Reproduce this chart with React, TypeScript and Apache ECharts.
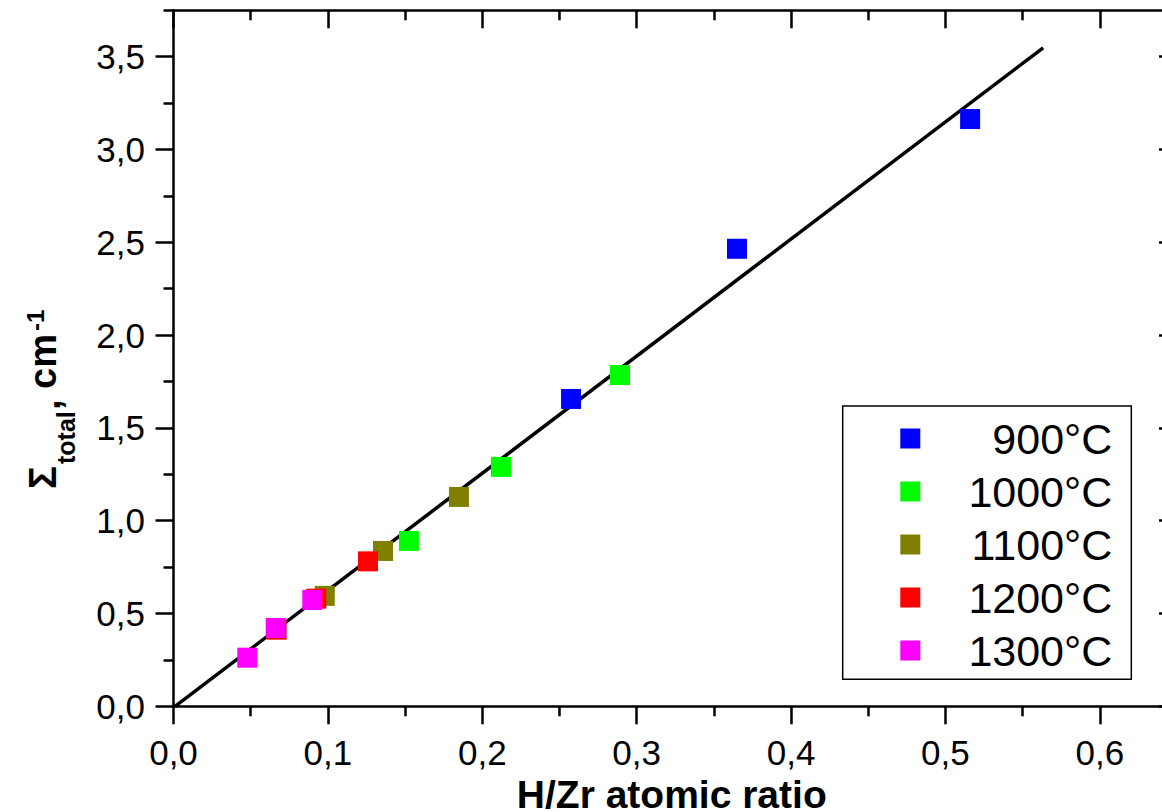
import React, { useEffect, useRef } from "react";
import * as echarts from "echarts";

const xMajorTicks = [0, 0.1, 0.2, 0.3, 0.4, 0.5, 0.6];
const xMinorTicks = [0.05, 0.15, 0.25, 0.35, 0.45, 0.55];
const yMajorTicks = [0, 0.5, 1.0, 1.5, 2.0, 2.5, 3.0, 3.5];
const yMinorTicks = [0.25, 0.75, 1.25, 1.75, 2.25, 2.75, 3.25, 3.75];

const seriesNames = ["900°C", "1000°C", "1100°C", "1200°C", "1300°C"];
const seriesColors = ["#0000ff", "#00ff00", "#808000", "#ff0000", "#ff00ff"];

const data900 = [[0.2575, 1.656], [0.365, 2.465], [0.516, 3.164]];
const data1000 = [[0.1525, 0.891], [0.2121, 1.29], [0.2892, 1.785]];
const data1100 = [[0.098, 0.595], [0.1357, 0.837], [0.1849, 1.128]];
const data1200 = [[0.0668, 0.413], [0.0925, 0.58], [0.126, 0.781]];
const data1300 = [[0.0478, 0.262], [0.0662, 0.422], [0.0899, 0.573]];

const fitLine = [[0.001, 0], [0.5633, 3.548]];

const FONT = '"Liberation Sans", Arial, Helvetica, sans-serif';

const fmt = (v: number) => v.toFixed(1).replace(".", ",");

export default function App() {
  const ref = useRef<HTMLDivElement>(null);
  useEffect(() => {
    if (!ref.current) return;
    const chart = echarts.init(ref.current, null, { renderer: "svg" });
    const allData = [data900, data1000, data1100, data1200, data1300];
    const gridRect = { left: 173.5, top: 10.3, width: 1003.5, height: 696, outerBoundsMode: "none" };
    const black = "#000";
    const baseX = { type: "value", min: 0, max: 0.65, splitLine: { show: false } };
    const baseY = { type: "value", min: 0, max: 3.75, splitLine: { show: false } };
    const option: any = {
      animation: false,
      backgroundColor: "#fff",
      grid: [{ ...gridRect }, { ...gridRect }],
      xAxis: [
        {
          ...baseX,
          gridIndex: 0,
          position: "bottom",
          name: "H/Zr atomic ratio",
          nameLocation: "middle",
          nameGap: 67,
          nameTextStyle: { fontFamily: FONT, fontSize: 39, fontWeight: "bold", color: black, padding: [0, 7, 0, 0] },
          axisLine: { onZero: false, lineStyle: { color: black, width: 2.5 } },
          axisTick: { customValues: xMajorTicks, inside: false, length: 18, lineStyle: { color: black, width: 2.5 } },
          axisLabel: { customValues: xMajorTicks, formatter: fmt, margin: 28.5, fontSize: 35, fontFamily: FONT, color: black },
        },
        {
          ...baseX,
          gridIndex: 0,
          position: "top",
          axisLine: { onZero: false, lineStyle: { color: black, width: 2.5 } },
          axisTick: { customValues: xMajorTicks, inside: true, length: 18, lineStyle: { color: black, width: 2.5 } },
          axisLabel: { show: false },
        },
        {
          ...baseX,
          gridIndex: 1,
          position: "bottom",
          axisLine: { show: false, onZero: false },
          axisTick: { customValues: xMinorTicks, inside: false, length: 10, lineStyle: { color: black, width: 2.5 } },
          axisLabel: { show: false },
        },
        {
          ...baseX,
          gridIndex: 1,
          position: "top",
          axisLine: { show: false, onZero: false },
          axisTick: { customValues: xMinorTicks, inside: true, length: 10, lineStyle: { color: black, width: 2.5 } },
          axisLabel: { show: false },
        },
      ],
      yAxis: [
        {
          ...baseY,
          gridIndex: 0,
          position: "left",
          axisLine: { onZero: false, lineStyle: { color: black, width: 2.5 } },
          axisTick: { customValues: yMajorTicks, inside: false, length: 18, lineStyle: { color: black, width: 2.5 } },
          axisLabel: { customValues: yMajorTicks, formatter: fmt, margin: 28.5, fontSize: 35, fontFamily: FONT, color: black },
        },
        {
          ...baseY,
          gridIndex: 0,
          position: "right",
          axisLine: { onZero: false, lineStyle: { color: black, width: 2.5 } },
          axisTick: { customValues: yMajorTicks, inside: true, length: 18, lineStyle: { color: black, width: 2.5 } },
          axisLabel: { show: false },
        },
        {
          ...baseY,
          gridIndex: 1,
          position: "left",
          axisLine: { show: false, onZero: false },
          axisTick: { customValues: yMinorTicks, inside: false, length: 10, lineStyle: { color: black, width: 2.5 } },
          axisLabel: { show: false },
        },
        {
          ...baseY,
          gridIndex: 1,
          position: "right",
          axisLine: { show: false, onZero: false },
          axisTick: { customValues: yMinorTicks, inside: true, length: 10, lineStyle: { color: black, width: 2.5 } },
          axisLabel: { show: false },
        },
      ],
      legend: {
        data: seriesNames,
        orient: "vertical",
        left: 842.7,
        top: 406,
        padding: [11, 19, 7.2, 57.6],
        itemWidth: 20,
        itemHeight: 20,
        itemGap: 10,
        icon: "rect",
        borderColor: black,
        borderWidth: 1.5,
        backgroundColor: "#fff",
        formatter: (name: string) => `{t|${name}}`,
        textStyle: {
          fontFamily: FONT,
          fontSize: 43,
          color: black,
          rich: {
            t: { width: 187, align: "right", fontSize: 43, fontFamily: FONT, color: black },
          },
        },
      },
      graphic: [
        {
          type: "group",
          x: 56,
          y: 489,
          rotation: Math.PI / 2,
          children: [
            { type: "text", x: 0, y: -13.2, style: { text: "Σ", fontFamily: FONT, fontSize: 38, fontWeight: "bold", fill: black, align: "left", verticalAlign: "middle" } },
            { type: "text", x: 25, y: 9.5, style: { text: "total", fontFamily: FONT, fontSize: 25, fontWeight: "bold", fill: black, align: "left", verticalAlign: "middle" } },
            { type: "text", x: 79, y: -9, style: { text: ",", fontFamily: FONT, fontSize: 38, fontWeight: "bold", fill: black, align: "left", verticalAlign: "middle" } },
            { type: "text", x: 100, y: -13.2, style: { text: "cm", fontFamily: FONT, fontSize: 38, fontWeight: "bold", fill: black, align: "left", verticalAlign: "middle" } },
            { type: "text", x: 158, y: -20.4, style: { text: "-1", fontFamily: FONT, fontSize: 24, fontWeight: "bold", fill: black, align: "left", verticalAlign: "middle" } },
          ],
        },
      ],
      series: [
        {
          type: "line",
          xAxisIndex: 0,
          yAxisIndex: 0,
          data: fitLine,
          symbol: "none",
          showSymbol: false,
          silent: true,
          z: 1,
          lineStyle: { color: black, width: 3.5 },
        },
        ...seriesNames.map((name, i) => ({
          type: "scatter",
          name,
          xAxisIndex: 0,
          yAxisIndex: 0,
          data: allData[i],
          symbol: "rect",
          symbolSize: 20,
          z: 3 + i,
          itemStyle: { color: seriesColors[i], opacity: 1 },
        })),
      ],
    };
    chart.setOption(option);
    return () => chart.dispose();
  }, []);
  return (
    <div
      ref={ref}
      style={{ position: "fixed", left: 0, top: 0, width: 1162, height: 812, background: "#fff" }}
    />
  );
}
